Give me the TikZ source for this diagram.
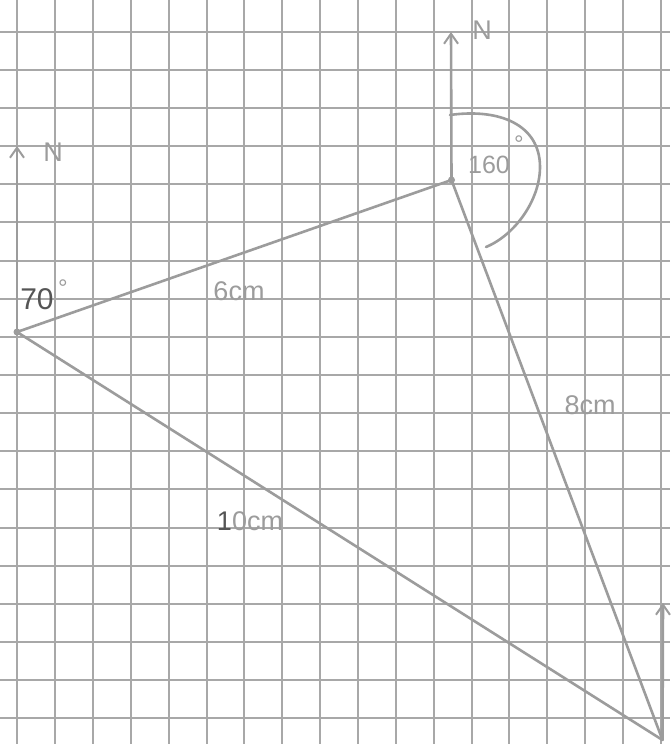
\documentclass[tikz,border=0pt]{standalone}
\usepackage{fontspec}
\setmainfont{Liberation Sans}
\usetikzlibrary{arrows.meta}
\definecolor{gridc}{HTML}{A8A8A8}
\definecolor{inkc}{HTML}{9C9C9C}
\definecolor{darkink}{HTML}{555555}
\tikzset{
  gridline/.style={draw=gridc, line width=2pt},
  edge/.style={draw=inkc, line width=2.6pt, line cap=round},
  northarrow/.style={draw=inkc, line width=2.6pt, -{Straight Barb[length=10pt,width=14pt,line width=2pt]}},
  lbl/.style={text=inkc, font=\fontsize{27}{27}\selectfont, inner sep=0pt},
  deg/.style={text=inkc, font=\fontsize{24}{24}\selectfont, inner sep=0pt},
  vertexdot/.style={circle, fill=inkc, inner sep=0pt, minimum size=7pt}
}
\begin{document}
\begin{tikzpicture}[x=1pt,y=-1pt]
\useasboundingbox (0,0) rectangle (670,744);
\fill[white] (0,0) rectangle (670,744);
% grid
\foreach \k in {0,...,17} {
  \draw[gridline] ({17.3+37.86*\k},0) -- ({17.3+37.86*\k},744);
}
\foreach \k in {0,...,18} {
  \draw[gridline] (0,{31.7+38.14*\k}) -- (670,{31.7+38.14*\k});
}
% vertices
\node[vertexdot] (A) at (17,332) {};
\node[vertexdot] (B) at (451.5,180) {};
\coordinate (C) at (662.5,740);
% north arrow tips
\coordinate (NA) at (17,146);
\coordinate (NB) at (451,32);
\coordinate (NC) at (663,603);
% triangle
\draw[edge] (A.center) -- (B.center);
\draw[edge] (B.center) -- (C);
\draw[edge] (A.center) -- (C);
% north arrows
\draw[northarrow] (A.center) -- (NA);
\draw[northarrow] (B.center) -- (NB);
\draw[northarrow] (C) -- (NC);
\node[lbl] (NlA) at (53,152) {N};
\node[lbl] (NlB) at (482,30) {N};
% angle arc at B
\coordinate (arcS) at (450,115);
\coordinate (arcE) at (486,247);
\draw[edge] (arcS) .. controls (500,108) and (540,125) .. (540,167)
  .. controls (540,200) and (515,235) .. (arcE);
% labels
\node[text=darkink, font=\fontsize{30}{30}\selectfont, inner sep=0pt] (ang70) at (37,299) {70};
\node[deg] (deg70) at (63,288) {°};
\node[lbl, font=\fontsize{25}{25}\selectfont] (ang160) at (489,165) {160};
\node[deg] (deg160) at (519,144) {°};
\node[lbl] (lAB) at (239,291) {6cm};
\node[lbl] (lBC) at (590,405) {8cm};
\node[lbl] (lAC) at (250,521) {\textcolor{darkink}{1}0cm};
\end{tikzpicture}
\end{document}
